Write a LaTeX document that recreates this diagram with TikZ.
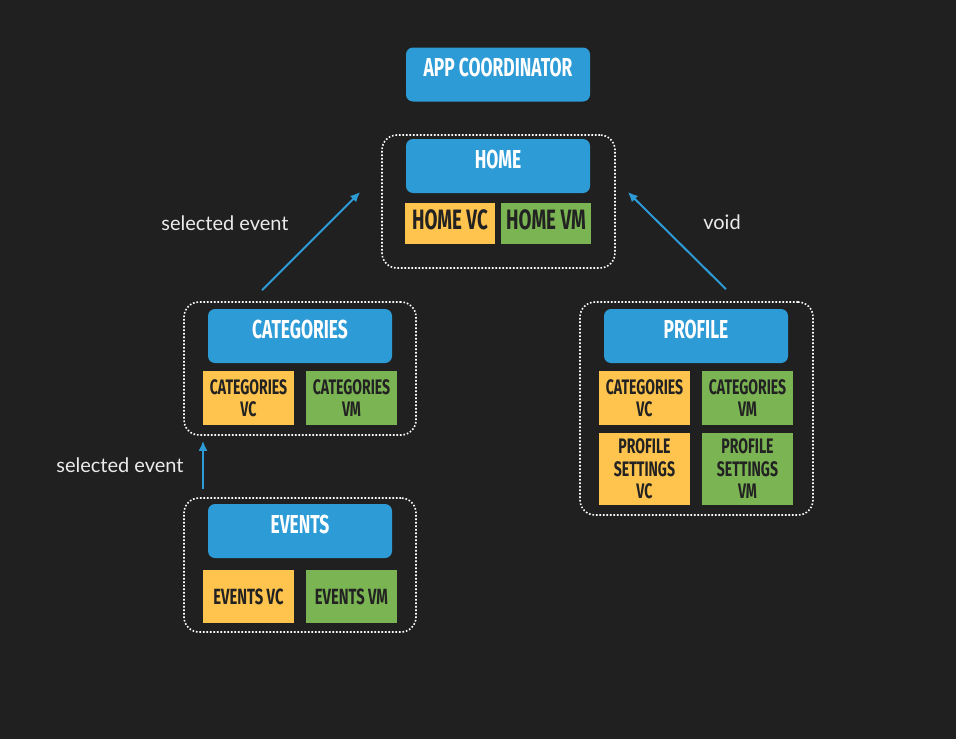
\documentclass[tikz,border=0pt]{standalone}
\usepackage{fontspec}
\usepackage{xcolor}
\usepackage{tikz}
\usetikzlibrary{arrows.meta}

\newfontfamily\boxfont[FakeStretch=0.67]{Fira Sans}
\newfontfamily\notefont{Lato}
\definecolor{bgdark}{RGB}{32,32,32}
\definecolor{appblue}{RGB}{45,155,214}
\definecolor{vcyellow}{RGB}{255,196,77}
\definecolor{vmgreen}{RGB}{123,180,83}
\definecolor{inkdark}{RGB}{34,34,34}

\begin{document}
\begin{tikzpicture}[x=1pt,y=-1pt,
        coordbox/.style={fill=appblue,rounded corners=7pt,text=white,inner sep=0pt,
            minimum width=184pt,text height=29pt,text depth=25pt,
            font=\boxfont\bfseries\fontsize{26}{28}\selectfont},
        group/.style={draw=white,line width=1.6pt,dash pattern=on 1.6pt off 1.9pt,
            rounded corners=15pt,inner sep=0pt},
        vc/.style={fill=vcyellow,text=inkdark,inner sep=0pt,align=center,minimum width=91pt,
            font=\boxfont\bfseries\fontsize{21}{22.5}\selectfont},
        vm/.style={vc,fill=vmgreen},
        flow/.style={draw=appblue,line width=2pt,-{Latex[length=10pt,width=9pt]}},
        note/.style={text=white!92!black,font=\notefont\fontsize{20}{22}\selectfont}]

    \fill[bgdark] (0,0) rectangle (956,739);

    \node[coordbox] (app) at (498,74.5) {APP COORDINATOR};

    \node[group,minimum width=233pt,minimum height=133pt] (homegrp) at (498.5,201.5) {};
    \node[coordbox] (home) at (498,166) {HOME};
    \node[vc,minimum width=90pt,text height=26pt,text depth=15pt,
        font=\boxfont\bfseries\fontsize{28}{30}\selectfont] (homevc) at (450,223.5) {HOME VC};
    \node[vm,minimum width=90pt,text height=26pt,text depth=15pt,
        font=\boxfont\bfseries\fontsize{28}{30}\selectfont] (homevm) at (546,223.5) {HOME VM};

    \node[group,minimum width=232pt,minimum height=133pt] (catgrp) at (300,368.5) {};
    \node[coordbox] (cat) at (300,336) {CATEGORIES};
    \node[vc,minimum height=54pt] (catvc) at (248.5,398) {CATEGORIES\\VC};
    \node[vm,minimum height=54pt] (catvm) at (351.5,398) {CATEGORIES\\VM};

    \node[group,minimum width=232pt,minimum height=134pt] (evgrp) at (300,565) {};
    \node[coordbox] (ev) at (300,531) {EVENTS};
    \node[vc,minimum height=53pt,font=\boxfont\bfseries\fontsize{22}{24}\selectfont] (evvc) at (248.5,596.5) {EVENTS VC};
    \node[vm,minimum height=53pt,font=\boxfont\bfseries\fontsize{22}{24}\selectfont] (evvm) at (351.5,596.5) {EVENTS VM};

    \node[group,minimum width=233pt,minimum height=213pt] (profgrp) at (696.5,408.5) {};
    \node[coordbox] (prof) at (696,336) {PROFILE};
    \node[vc,minimum height=54pt] (pcatvc) at (644.5,398) {CATEGORIES\\VC};
    \node[vm,minimum height=54pt] (pcatvm) at (747.5,398) {CATEGORIES\\VM};
    \node[vc,minimum height=72pt] (psetvc) at (644.5,469) {PROFILE\\SETTINGS\\VC};
    \node[vm,minimum height=72pt] (psetvm) at (747.5,469) {PROFILE\\SETTINGS\\VM};

    \draw[flow] ([xshift=-38pt,yshift=11pt]catgrp.north) -- ([xshift=-21pt,yshift=9.5pt]homegrp.west);
    \draw[flow] ([xshift=29.5pt,yshift=12pt]profgrp.north) -- ([xshift=12pt,yshift=9.5pt]homegrp.east);
    \draw[flow] ([xshift=-97pt,yshift=8pt]evgrp.north) -- ([xshift=-97pt,yshift=-5pt]catgrp.south);

    \node[note] (selcat) at (225,223) {selected event};
    \node[note] (void) at (722,222) {void};
    \node[note] (selev) at (120,465) {selected event};
\end{tikzpicture}
\end{document}
